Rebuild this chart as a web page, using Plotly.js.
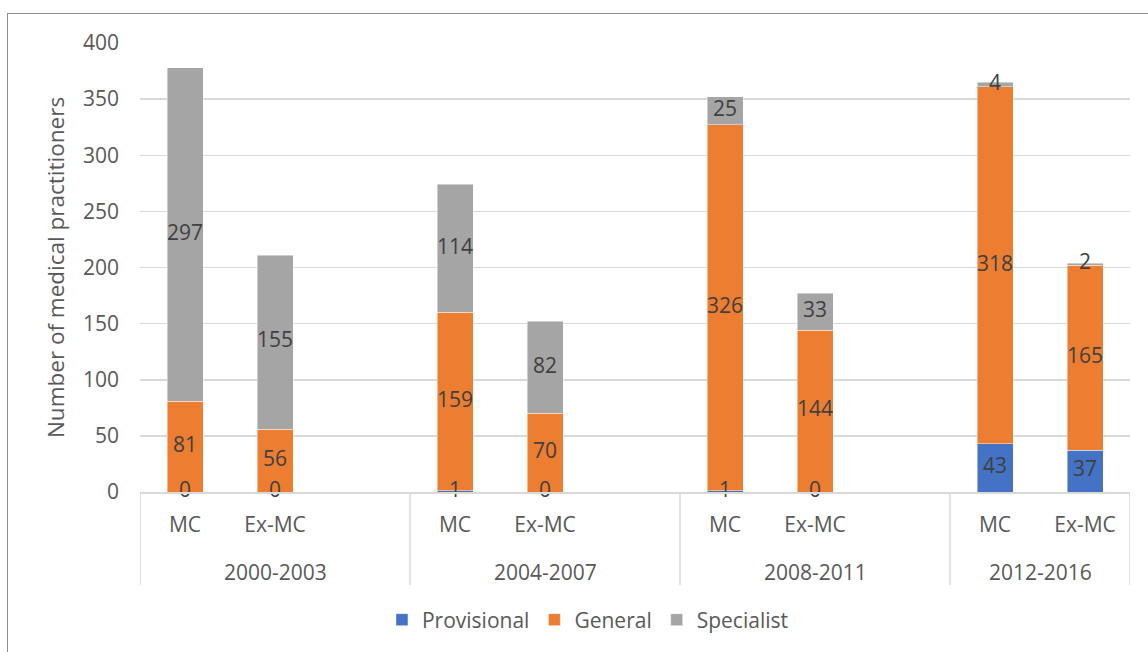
<!DOCTYPE html>
<html>
<head>
<meta charset="utf-8">
<script src="https://cdn.plot.ly/plotly-3.0.1.min.js"></script>
<style>
  html, body { margin: 0; padding: 0; background: #fff; }
  #wrap { position: relative; width: 1148px; height: 652px; overflow: hidden; }
  #frame { position: absolute; left: 7px; top: 13px; width: 1160px; height: 660px; border: 1.5px solid #8f8f8f; box-sizing: border-box; pointer-events: none; z-index: 5; }
  #chart { position: absolute; left: 0; top: 0; width: 1148px; height: 652px; }
</style>
</head>
<body>
<div id="wrap">
  <div id="chart"></div>
  <div id="frame"></div>
</div>
<script>
// ---- Data ----
const periods = ["2000-2003", "2004-2007", "2008-2011", "2012-2016"];
const subcats = ["MC", "Ex-MC"];
// order: [2000 MC, 2000 Ex-MC, 2004 MC, 2004 Ex-MC, 2008 MC, 2008 Ex-MC, 2012 MC, 2012 Ex-MC]
const provisional = [0, 0, 1, 0, 1, 0, 43, 37];
const general     = [81, 56, 159, 70, 326, 144, 318, 165];
const specialist  = [297, 155, 114, 82, 25, 33, 4, 2];
const seriesNames = ["Provisional", "General", "Specialist"];
const colors = ["#4472C4", "#ED7D31", "#A5A5A5"];

// ---- Layout structure: first three periods have an empty third slot ----
const slotsPerGroup = 3;
const xs = [], tickText = [];
periods.forEach((p, gi) => {
  subcats.forEach((s, si) => {
    xs.push(gi * slotsPerGroup + si);
    tickText.push(s);
  });
});
const xMax = (periods.length - 1) * slotsPerGroup + subcats.length - 1;

const series = [provisional, general, specialist];
const traces = [];
series.forEach((vals, k) => {
  traces.push({
    type: "bar", x: xs, y: vals, name: seriesNames[k],
    marker: { color: colors[k], line: { color: "rgba(255,255,255,0.6)", width: 0.75 } },
    width: 0.4, hoverinfo: "skip"
  });
});
// data labels at segment centres
const FONT = "Open Sans, sans-serif";
let base = xs.map(() => 0);
series.forEach((vals, k) => {
  traces.push({
    type: "scatter", mode: "text", x: xs,
    y: vals.map((v, i) => base[i] + v / 2),
    text: vals.map(String), textposition: "middle center",
    textfont: { family: FONT, size: 21, color: "#404040" },
    showlegend: false, hoverinfo: "skip", cliponaxis: false
  });
  base = base.map((b, i) => b + vals[i]);
});

const plotTop = 43, plotBottom = 492, plotH = plotBottom - plotTop;
const sepBottom = -(585 - plotBottom) / plotH;

const shapes = [];
for (let g = 0; g <= periods.length; g++) {
  const x = g < periods.length ? g * slotsPerGroup - 0.5 : xMax + 0.5;
  shapes.push({ type: "line", xref: "x", yref: "paper", x0: x, x1: x, y0: 0, y1: sepBottom,
    line: { color: "#d9d9d9", width: 1.5 } });
}
const annotations = periods.map((p, gi) => {
  const start = gi * slotsPerGroup - 0.5;
  const end = gi < periods.length - 1 ? (gi + 1) * slotsPerGroup - 0.5 : xMax + 0.5;
  return { text: p, xref: "x", yref: "paper", x: (start + end) / 2, y: -(572 - plotBottom) / plotH,
    showarrow: false, yanchor: "middle", font: { family: FONT, size: 21, color: "#595959" } };
});

const layout = {
  width: 1148, height: 652,
  margin: { l: 140, r: 18, t: plotTop, b: 652 - plotBottom },
  paper_bgcolor: "#fff", plot_bgcolor: "#fff",
  barmode: "stack",
  showlegend: true,
  legend: { orientation: "h", x: 0.4525, xanchor: "center", y: -(620 - plotBottom) / plotH, yanchor: "middle",
    traceorder: "normal", font: { family: FONT, size: 21, color: "#595959" }, itemwidth: 30 },
  xaxis: {
    range: [-0.5, xMax + 0.5], tickvals: xs, ticktext: tickText, showgrid: false, zeroline: false,
    showline: true, linecolor: "#d9d9d9", linewidth: 1.5, ticks: "",
    ticklabelstandoff: 13,
    tickfont: { family: FONT, size: 21, color: "#595959" }, fixedrange: true
  },
  yaxis: {
    range: [0, 400], dtick: 50, tick0: 0, showgrid: true, gridcolor: "#d9d9d9", gridwidth: 1.5,
    zeroline: false, showline: false, ticks: "", ticklabelstandoff: 20,
    tickfont: { family: FONT, size: 21, color: "#595959" },
    title: { text: "Number of medical practitioners", standoff: 12, font: { family: FONT, size: 22.5, color: "#595959" } }
  },
  shapes: shapes, annotations: annotations
};
Plotly.newPlot("chart", traces, layout, { displayModeBar: false, staticPlot: true });
</script>
</body>
</html>
